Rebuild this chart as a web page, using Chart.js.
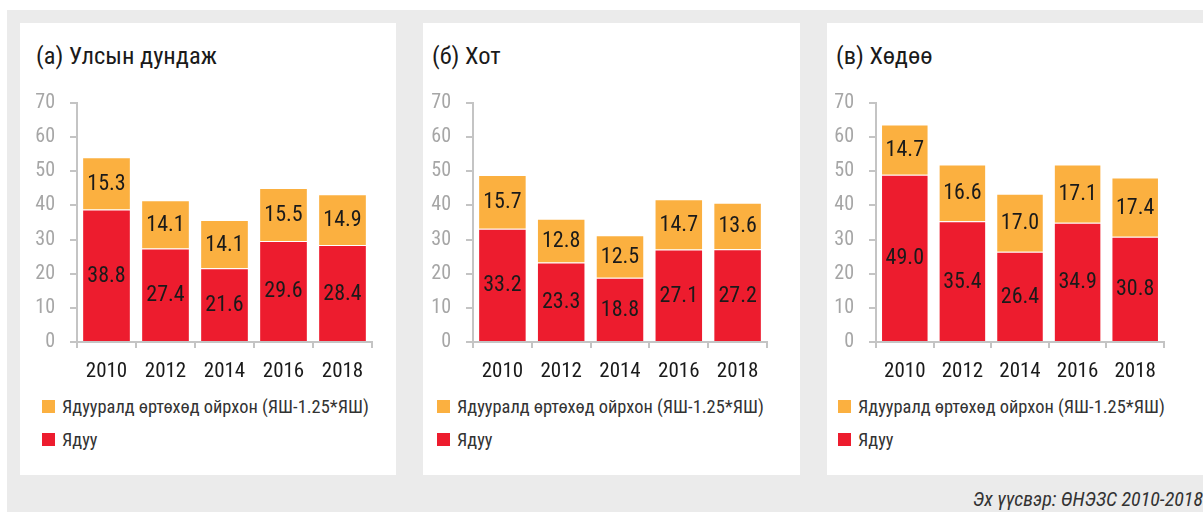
<!DOCTYPE html>
<html>
<head>
<meta charset="utf-8">
<script src="https://cdn.jsdelivr.net/npm/chart.js@4.4.1/dist/chart.umd.min.js"></script>
<style>
  html, body { margin: 0; padding: 0; background: #ffffff; }
  body { width: 1203px; height: 512px; position: relative; overflow: hidden;
         font-family: 'Liberation Sans Narrow', 'Roboto Condensed', 'DejaVu Sans Condensed', sans-serif; }
  #bg { position: absolute; left: 7px; top: 10px; width: 1196px; height: 502px; background: #ebebeb; }
  .panel { position: absolute; top: 23px; height: 452px; background: #ffffff; }
  .title { position: absolute; font-size: 24.5px; color: #1a1a1a; white-space: nowrap; line-height: 1; }
  .legend { position: absolute; font-size: 18.4px; color: #333333; white-space: nowrap; }
  .legend .item { position: absolute; left: 0; height: 20px; line-height: 20px; }
  .legend .box { position: absolute; left: 0; top: 3px; width: 13px; height: 13px; }
  .legend .txt { position: absolute; left: 20px; top: 0; }
  .cw { position: absolute; }
  canvas { display: block; }
  #src { position: absolute; right: 0px; top: 489px; font-size: 20px; font-style: italic; color: #333333; white-space: nowrap; line-height: 1; }
</style>
</head>
<body>
<div id="bg"></div>
<div id="root"></div>
<div id="src">Эх үүсвэр: ӨНЭЗС 2010-2018</div>
<script>
// ---- Data ----
const years = ['2010', '2012', '2014', '2016', '2018'];
const titles = ['(a) Улсын дундаж', '(б) Хот', '(в) Хөдөө'];
const seriesNames = ['Ядуу', 'Ядууралд өртөхөд ойрхон (ЯШ-1.25*ЯШ)'];
const poorNational = [38.8, 27.4, 21.6, 29.6, 28.4];
const nearNational = [15.3, 14.1, 14.1, 15.5, 14.9];
const poorUrban = [33.2, 23.3, 18.8, 27.1, 27.2];
const nearUrban = [15.7, 12.8, 12.5, 14.7, 13.6];
const poorRural = [49.0, 35.4, 26.4, 34.9, 30.8];
const nearRural = [14.7, 16.6, 17.0, 17.1, 17.4];
const yTicks = [0, 10, 20, 30, 40, 50, 60, 70];

// ---- Styles / layout ----
const RED = '#ed1c2e';
const ORANGE = '#fbb040';
const FONT = "'Liberation Sans Narrow', 'Roboto Condensed', 'DejaVu Sans Condensed', sans-serif";
const panels = [
  { left: 20, width: 376, titleX: 16, legX: 22, yAxisW: 57, padR: 24, poor: poorNational, near: nearNational },
  { left: 423, width: 377, titleX: 9, legX: 14, yAxisW: 50, padR: 33, poor: poorUrban, near: nearUrban },
  { left: 827, width: 376, titleX: 9, legX: 11, yAxisW: 49, padR: 39, poor: poorRural, near: nearRural }
];
const CANVAS_TOP = 53;   // relative to panel top (panel top = 23)
const CANVAS_H = 311;

const valueLabels = {
  id: 'valueLabels',
  afterDatasetsDraw(chart) {
    const ctx = chart.ctx;
    ctx.save();
    ctx.font = '22px ' + FONT;
    ctx.fillStyle = '#1a1a1a';
    ctx.textAlign = 'center';
    ctx.textBaseline = 'middle';
    chart.data.datasets.forEach((ds, di) => {
      const meta = chart.getDatasetMeta(di);
      meta.data.forEach((el, i) => {
        const p = el.getProps(['x', 'y', 'base'], true);
        ctx.fillText(Number(ds.data[i]).toFixed(1), p.x, (p.y + p.base) / 2 + 1);
      });
    });
    ctx.restore();
  }
};

const root = document.getElementById('root');
panels.forEach((P, idx) => {
  const panel = document.createElement('div');
  panel.className = 'panel';
  panel.style.left = P.left + 'px';
  panel.style.width = P.width + 'px';
  root.appendChild(panel);

  const t = document.createElement('div');
  t.className = 'title';
  t.style.left = P.titleX + 'px';
  t.style.top = '21px';
  t.textContent = titles[idx];
  panel.appendChild(t);

  const cw = document.createElement('div');
  cw.className = 'cw';
  cw.style.left = '0px';
  cw.style.top = CANVAS_TOP + 'px';
  cw.style.width = P.width + 'px';
  cw.style.height = CANVAS_H + 'px';
  const cv = document.createElement('canvas');
  cv.width = P.width; cv.height = CANVAS_H;
  cv.style.width = P.width + 'px'; cv.style.height = CANVAS_H + 'px';
  cw.appendChild(cv);
  panel.appendChild(cw);

  const chart = new Chart(cv.getContext('2d'), {
    type: 'bar',
    data: {
      labels: years,
      datasets: [
        { label: seriesNames[0], data: P.poor, backgroundColor: RED, borderColor: 'rgba(255,255,255,0.35)', borderWidth: 1 },
        { label: seriesNames[1], data: P.near, backgroundColor: ORANGE, borderColor: 'rgba(255,255,255,0.35)', borderWidth: 1 }
      ]
    },
    options: {
      responsive: false,
      animation: false,
      devicePixelRatio: 1,
      layout: { padding: { top: 9, right: P.padR, left: 0, bottom: 0 } },
      plugins: { legend: { display: false }, tooltip: { enabled: false }, title: { display: false } },
      datasets: { bar: { categoryPercentage: 1.0, barPercentage: 0.825 } },
      scales: {
        x: {
          stacked: true,
          grid: { display: true, drawOnChartArea: false, drawTicks: true, tickLength: 6, color: '#c4c4c4', lineWidth: 2, offset: true },
          border: { display: true, color: '#c4c4c4', width: 2 },
          ticks: { color: '#1a1a1a', font: { family: FONT, size: 21 }, padding: 11, maxRotation: 0 },
          afterFit(s) { s.height = 45; }
        },
        y: {
          stacked: true,
          min: 0, max: 70,
          afterBuildTicks(s) { s.ticks = yTicks.map(v => ({ value: v })); },
          grid: { display: true, drawOnChartArea: false, drawTicks: true, tickLength: 7, color: '#c4c4c4', lineWidth: 2 },
          border: { display: true, color: '#c4c4c4', width: 2 },
          ticks: { color: '#a6a6a6', font: { family: FONT, size: 20 }, padding: 15 },
          afterFit(s) { s.width = P.yAxisW; }
        }
      }
    },
    plugins: [valueLabels]
  });

  // legend built from the chart's datasets (orange first, red second)
  const leg = document.createElement('div');
  leg.className = 'legend';
  leg.style.left = P.legX + 'px';
  leg.style.top = '374px';
  const order = [1, 0];
  order.forEach((di, k) => {
    const ds = chart.data.datasets[di];
    const it = document.createElement('div');
    it.className = 'item';
    it.style.top = (k * 33) + 'px';
    const b = document.createElement('span');
    b.className = 'box';
    b.style.background = ds.backgroundColor;
    const tx = document.createElement('span');
    tx.className = 'txt';
    tx.textContent = ds.label;
    it.appendChild(b); it.appendChild(tx);
    leg.appendChild(it);
  });
  panel.appendChild(leg);
});
</script>
</body>
</html>
